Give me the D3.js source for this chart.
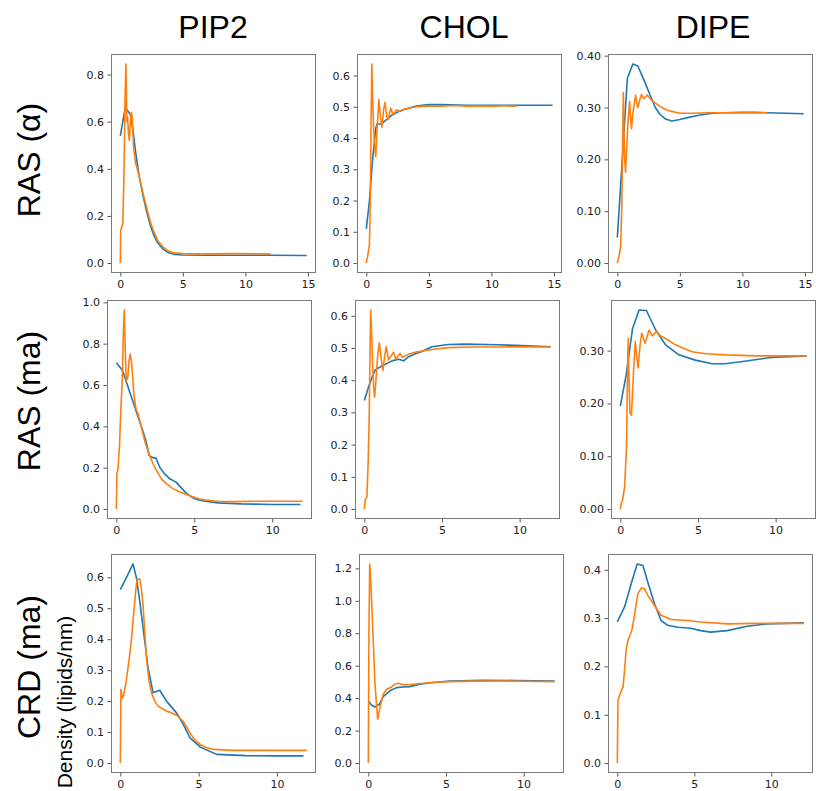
<!DOCTYPE html>
<html>
<head>
<meta charset="utf-8">
<script src="https://cdn.jsdelivr.net/npm/d3@7"></script>
<style>
  body { margin: 0; background: #fff; }
  .tick text { font-family: "DejaVu Sans", sans-serif; font-size: 11px; fill: #222; }
  .tick line { stroke: #555; }
</style>
</head>
<body>
<div id="chart"></div>
<script>
// column / row labels
var lipids = ["PIP2", "CHOL", "DIPE"];
var systems = ["RAS (α)", "RAS (ma)", "CRD (ma)"];

// RAS (alpha) row
var rasAlphaPip2Blue = [[0,0.54],[0.2,0.6],[0.4,0.66],[0.6,0.645],[0.8,0.63],[1.0,0.57],[1.2,0.48],[1.5,0.37],[1.8,0.29],[2.1,0.22],[2.4,0.16],[2.7,0.115],[3.0,0.085],[3.4,0.06],[3.8,0.045],[4.3,0.037],[5,0.034],[7,0.033],[10,0.033],[12,0.033],[14.9,0.032]];
var rasAlphaPip2Orange = [[0,0],[0.03,0.14],[0.1,0.15],[0.2,0.17],[0.3,0.4],[0.38,0.7],[0.45,0.845],[0.52,0.6],[0.58,0.62],[0.65,0.55],[0.72,0.52],[0.8,0.6],[0.88,0.64],[0.95,0.62],[1.05,0.5],[1.2,0.43],[1.35,0.4],[1.5,0.37],[1.8,0.3],[2.1,0.235],[2.4,0.175],[2.7,0.13],[3.0,0.095],[3.4,0.07],[3.8,0.052],[4.3,0.043],[5,0.04],[7,0.039],[9,0.04],[12,0.039]];
var rasAlphaCholBlue = [[0,0.109],[0.25,0.2],[0.5,0.33],[0.75,0.43],[0.85,0.445],[1.2,0.445],[1.5,0.455],[2,0.472],[2.5,0.483],[3,0.491],[3.5,0.497],[4,0.502],[5,0.507],[6,0.507],[8,0.505],[10,0.505],[12,0.505],[14.9,0.505]];
var rasAlphaCholOrange = [[0,0],[0.1,0.02],[0.25,0.06],[0.32,0.2],[0.38,0.45],[0.44,0.637],[0.52,0.5],[0.62,0.4],[0.75,0.34],[0.85,0.42],[1.0,0.523],[1.12,0.47],[1.25,0.435],[1.38,0.49],[1.5,0.514],[1.62,0.47],[1.75,0.46],[1.95,0.495],[2.15,0.475],[2.4,0.49],[2.7,0.485],[3,0.492],[3.5,0.496],[4,0.5],[5,0.503],[6,0.502],[7,0.504],[8,0.502],[9,0.503],[10,0.502],[11,0.503],[12,0.502]];
var rasAlphaDipeBlue = [[0,0.049],[0.4,0.2],[0.8,0.356],[1.24,0.384],[1.64,0.38],[2.0,0.36],[2.25,0.346],[2.6,0.325],[3.04,0.3],[3.4,0.287],[3.84,0.278],[4.37,0.274],[5,0.277],[5.7,0.281],[6.5,0.285],[7.3,0.288],[8.1,0.29],[10,0.29],[12,0.29],[14.9,0.288]];
var rasAlphaDipeOrange = [[0,0],[0.13,0.013],[0.26,0.03],[0.35,0.1],[0.42,0.22],[0.48,0.329],[0.53,0.26],[0.58,0.204],[0.66,0.175],[0.74,0.217],[0.85,0.27],[0.98,0.312],[1.06,0.28],[1.14,0.259],[1.24,0.288],[1.46,0.324],[1.55,0.31],[1.64,0.3],[1.8,0.315],[1.93,0.325],[2.12,0.317],[2.38,0.324],[2.6,0.318],[2.78,0.313],[3.3,0.304],[3.7,0.298],[4.1,0.294],[5,0.289],[6,0.289],[7.3,0.29],[8.5,0.29],[10,0.291],[11,0.291],[12,0.29]];

// RAS (ma) row
var rasMaPip2Blue = [[0,0.708],[0.4,0.67],[0.8,0.58],[1.2,0.49],[1.6,0.4],[1.9,0.33],[2.1,0.26],[2.3,0.25],[2.55,0.245],[2.8,0.2],[3.1,0.17],[3.4,0.148],[3.83,0.13],[4.2,0.1],[4.5,0.075],[5,0.05],[5.5,0.04],[6.5,0.03],[8,0.025],[10,0.022],[11.8,0.022]];
var rasMaPip2Orange = [[0,0],[0.04,0.175],[0.1,0.19],[0.2,0.3],[0.3,0.5],[0.38,0.62],[0.45,0.85],[0.51,0.963],[0.58,0.75],[0.64,0.62],[0.74,0.64],[0.82,0.72],[0.89,0.75],[0.96,0.72],[1.02,0.67],[1.1,0.58],[1.17,0.527],[1.28,0.48],[1.38,0.463],[1.5,0.43],[1.7,0.366],[1.9,0.31],[2.13,0.26],[2.35,0.22],[2.55,0.19],[2.9,0.145],[3.19,0.124],[3.6,0.1],[4.04,0.084],[4.5,0.07],[4.9,0.06],[5.3,0.05],[5.74,0.044],[6.5,0.038],[7.45,0.036],[9,0.038],[10.5,0.038],[11.95,0.038]];
var rasMaCholBlue = [[0,0.337],[0.28,0.38],[0.5,0.41],[0.7,0.432],[1.13,0.444],[1.78,0.46],[2.2,0.465],[2.53,0.46],[2.85,0.473],[3.3,0.482],[3.7,0.489],[4.35,0.504],[5.4,0.511],[6.5,0.512],[8.6,0.51],[10.5,0.507],[12,0.504]];
var rasMaCholOrange = [[0,0],[0.06,0.029],[0.17,0.039],[0.25,0.15],[0.32,0.3],[0.37,0.5],[0.41,0.618],[0.47,0.55],[0.53,0.452],[0.6,0.38],[0.66,0.347],[0.75,0.4],[0.85,0.47],[0.96,0.516],[1.1,0.463],[1.2,0.43],[1.3,0.47],[1.41,0.504],[1.56,0.463],[1.72,0.475],[1.88,0.487],[2.03,0.466],[2.3,0.483],[2.46,0.471],[2.85,0.481],[3.3,0.487],[3.92,0.492],[4.6,0.497],[5.42,0.501],[7,0.503],[8.5,0.503],[10,0.504],[12,0.503]];
var rasMaDipeBlue = [[0,0.195],[0.36,0.251],[0.79,0.342],[1.21,0.377],[1.68,0.376],[2.28,0.339],[2.91,0.311],[3.77,0.292],[4.83,0.282],[5.9,0.275],[6.74,0.275],[8.0,0.28],[9.7,0.287],[12,0.29]];
var rasMaDipeOrange = [[0,0],[0.06,0.011],[0.15,0.018],[0.28,0.043],[0.4,0.118],[0.46,0.25],[0.51,0.323],[0.56,0.25],[0.62,0.182],[0.72,0.178],[0.85,0.26],[0.96,0.317],[1.05,0.29],[1.15,0.267],[1.27,0.31],[1.38,0.333],[1.6,0.314],[1.85,0.339],[2.06,0.328],[2.32,0.336],[2.6,0.328],[2.91,0.323],[3.55,0.311],[4.1,0.304],[4.62,0.298],[5.5,0.294],[6.74,0.292],[8.87,0.29],[10.5,0.29],[12,0.29]];

// CRD (ma) row
var crdMaPip2Blue = [[0,0.56],[0.38,0.598],[0.81,0.643],[1.03,0.598],[1.24,0.523],[1.56,0.394],[1.77,0.308],[2.09,0.227],[2.52,0.235],[2.95,0.2],[3.59,0.162],[4.02,0.125],[4.44,0.082],[5.09,0.052],[6.15,0.028],[8,0.024],[10,0.023],[11.7,0.023]];
var crdMaPip2Orange = [[0,0],[0.04,0.238],[0.13,0.21],[0.2,0.216],[0.38,0.265],[0.55,0.33],[0.7,0.394],[0.85,0.48],[0.98,0.555],[1.07,0.592],[1.24,0.595],[1.35,0.56],[1.45,0.511],[1.55,0.43],[1.67,0.34],[1.82,0.27],[1.99,0.227],[2.2,0.2],[2.41,0.184],[2.95,0.168],[3.59,0.155],[4.02,0.135],[4.44,0.098],[4.75,0.075],[5.09,0.06],[5.5,0.05],[5.94,0.044],[7.2,0.041],[9,0.041],[11.9,0.041]];
var crdMaCholBlue = [[0,0.383],[0.21,0.356],[0.43,0.346],[0.71,0.362],[0.96,0.41],[1.39,0.445],[1.82,0.465],[2.24,0.469],[2.67,0.471],[3.31,0.486],[4.17,0.496],[5.24,0.506],[7.37,0.51],[9.5,0.509],[12,0.506]];
var crdMaCholOrange = [[0,0],[0.04,0.815],[0.09,1.227],[0.17,1.1],[0.3,0.8],[0.43,0.486],[0.6,0.27],[0.75,0.342],[0.96,0.424],[1.18,0.455],[1.43,0.465],[1.71,0.486],[1.92,0.492],[2.24,0.482],[2.67,0.484],[3.31,0.49],[4.2,0.496],[5.24,0.502],[6.8,0.505],[8.44,0.506],[10,0.504],[12,0.502]];
var crdMaDipeBlue = [[0,0.292],[0.47,0.323],[0.9,0.371],[1.29,0.412],[1.66,0.409],[1.98,0.374],[2.41,0.33],[2.84,0.295],[3.27,0.285],[3.91,0.281],[4.77,0.279],[5.42,0.274],[6.06,0.271],[7.14,0.274],[8.43,0.283],[9.72,0.288],[12.1,0.29]];
var crdMaDipeOrange = [[0,0],[0.04,0.13],[0.15,0.14],[0.26,0.15],[0.37,0.157],[0.47,0.192],[0.58,0.237],[0.7,0.255],[0.8,0.263],[0.95,0.276],[1.12,0.306],[1.33,0.35],[1.55,0.362],[1.76,0.361],[1.98,0.347],[2.41,0.326],[2.84,0.306],[3.48,0.297],[4.56,0.295],[5.42,0.292],[7.14,0.288],[9,0.289],[12.1,0.289]];

// tick values per panel (row by row)
var yTicks = [
    [[0, 0.2, 0.4, 0.6, 0.8], [0, 0.1, 0.2, 0.3, 0.4, 0.5, 0.6], [0, 0.1, 0.2, 0.3, 0.4]],
    [[0, 0.2, 0.4, 0.6, 0.8, 1.0], [0, 0.1, 0.2, 0.3, 0.4, 0.5, 0.6], [0, 0.1, 0.2, 0.3]],
    [[0, 0.1, 0.2, 0.3, 0.4, 0.5, 0.6], [0, 0.2, 0.4, 0.6, 0.8, 1.0, 1.2], [0, 0.1, 0.2, 0.3, 0.4]]
];
var yFormats = [[".1f", ".1f", ".2f"], [".1f", ".1f", ".2f"], [".1f", ".1f", ".1f"]];
var xTicks = [[0, 5, 10, 15], [0, 5, 10], [0, 5, 10]];

var series = [
    [[rasAlphaPip2Blue, rasAlphaPip2Orange], [rasAlphaCholBlue, rasAlphaCholOrange], [rasAlphaDipeBlue, rasAlphaDipeOrange]],
    [[rasMaPip2Blue, rasMaPip2Orange], [rasMaCholBlue, rasMaCholOrange], [rasMaDipeBlue, rasMaDipeOrange]],
    [[crdMaPip2Blue, crdMaPip2Orange], [crdMaCholBlue, crdMaCholOrange], [crdMaDipeBlue, crdMaDipeOrange]]
];
var colors = ["#1f77b4", "#ff7f0e"];

// layout
var svgWidth = 816, svgHeight = 791;
var panelW = 205, panelH = 219;
var rowTops = [54, 300, 554];
var colLefts = [[111, 357, 608], [107, 355, 611], [111, 359, 608]];

var svg = d3.select("#chart")
    .append("svg")
    .attr("width", svgWidth)
    .attr("height", svgHeight);

// matplotlib style 5% margins
function padded(ext) {
    var m = (ext[1] - ext[0]) * 0.05;
    return [ext[0] - m, ext[1] + m];
}

series.forEach(function (rowData, r) {
    rowData.forEach(function (pair, c) {
        var all = pair[0].concat(pair[1]);
        var x = d3.scaleLinear()
            .domain(padded(d3.extent(all, d => d[0])))
            .range([0, panelW]);
        var y = d3.scaleLinear()
            .domain(padded(d3.extent(all, d => d[1])))
            .range([panelH, 0]);

        var g = svg.append("g")
            .attr("transform", `translate(${colLefts[r][c]}, ${rowTops[r]})`);

        var line = d3.line()
            .x(d => x(d[0]))
            .y(d => y(d[1]));

        pair.forEach(function (pts, i) {
            g.append("path")
                .datum(pts)
                .attr("fill", "none")
                .attr("stroke", colors[i])
                .attr("stroke-width", 1.6)
                .attr("stroke-linejoin", "round")
                .attr("d", line);
        });

        // x axis
        g.append("g")
            .attr("transform", `translate(0, ${panelH})`)
            .call(d3.axisBottom(x).tickValues(xTicks[r]).tickSize(3.5).tickPadding(3.5).tickFormat(d3.format("d")))
            .call(a => a.select(".domain").remove());

        // y axis
        g.append("g")
            .call(d3.axisLeft(y).tickValues(yTicks[r][c]).tickSize(3.5).tickPadding(3.5).tickFormat(d3.format(yFormats[r][c])))
            .call(a => a.select(".domain").remove());

        // frame
        g.append("rect")
            .attr("x", 0.5)
            .attr("y", 0.5)
            .attr("width", panelW - 1)
            .attr("height", panelH - 1)
            .attr("fill", "none")
            .attr("stroke", "#7a7a7a")
            .attr("stroke-width", 1);
    });
});

// column titles
var titleX = [213, 464, 713];
lipids.forEach(function (name, i) {
    svg.append("text")
        .attr("x", titleX[i])
        .attr("y", 38)
        .attr("text-anchor", "middle")
        .style("font-family", "'Liberation Sans', Arial, sans-serif")
        .style("font-size", "32px")
        .attr("fill", "#000")
        .text(name);
});

// row labels
var rowLabelY = [160, 401, 667];
systems.forEach(function (name, i) {
    svg.append("text")
        .attr("transform", `translate(40, ${rowLabelY[i]}) rotate(-90)`)
        .attr("text-anchor", "middle")
        .style("font-family", "'Liberation Sans', Arial, sans-serif")
        .style("font-size", "32px")
        .attr("fill", "#000")
        .text(name);
});

// y axis label of the bottom left panel
svg.append("text")
    .attr("transform", "translate(72, 702) rotate(-90)")
    .attr("text-anchor", "middle")
    .style("font-family", "'Liberation Sans', Arial, sans-serif")
    .style("font-size", "21px")
    .attr("fill", "#000")
    .text("Density (lipids/nm)");
</script>
</body>
</html>
